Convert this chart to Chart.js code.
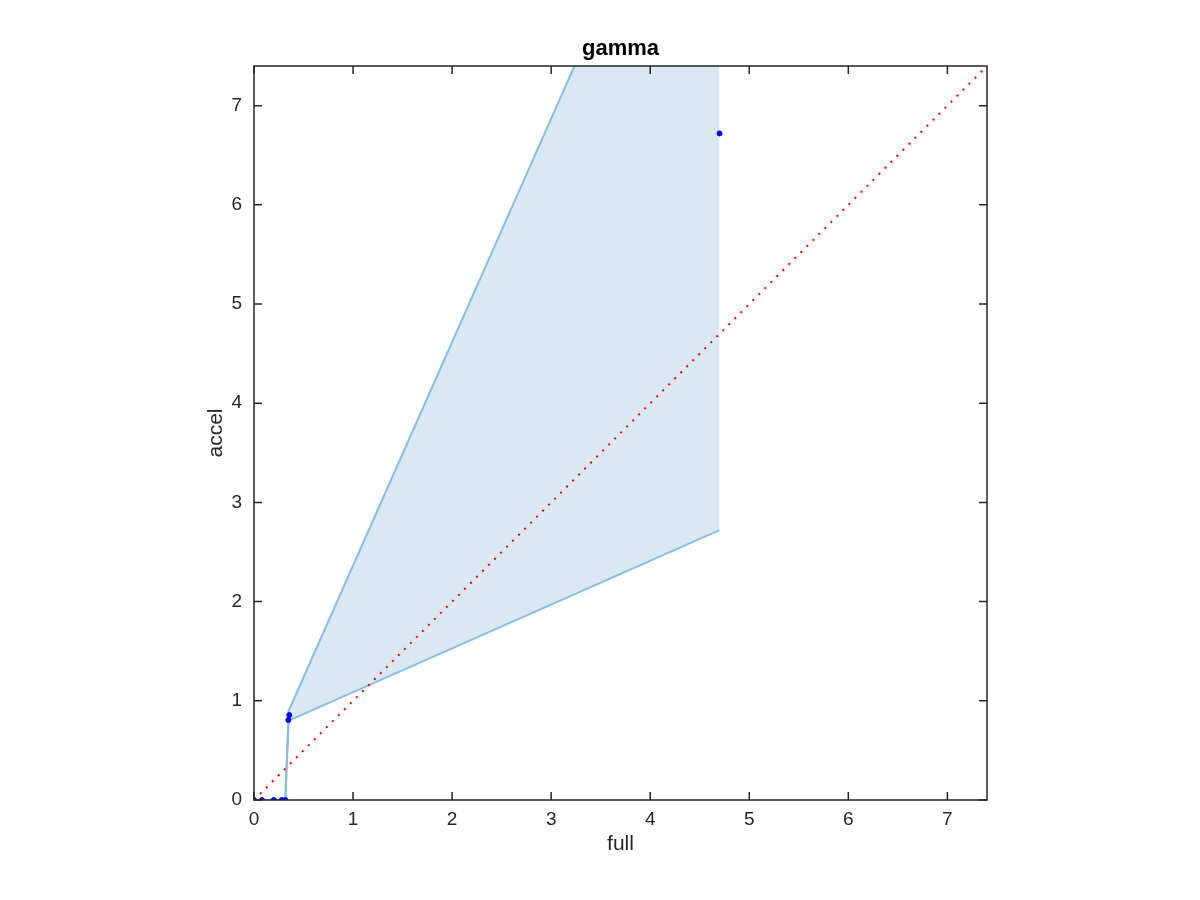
<!DOCTYPE html>
<html>
<head>
<meta charset="utf-8">
<script src="https://cdn.jsdelivr.net/npm/chart.js@4/dist/chart.umd.min.js"></script>
<style>
  body { margin: 0; background: #fff; }
</style>
</head>
<body>
<canvas id="gammaChart" width="1200" height="900"></canvas>
<script>
// observed points (full vs accel)
const pointFull = [0, 0.08, 0.2, 0.28, 0.316, 0.346, 0.356, 4.7];
const pointAccel = [0, 0, 0, 0, 0, 0.806, 0.856, 6.72];

// confidence band
const bandFull = [0, 0.08, 0.2, 0.28, 0.316, 0.35, 4.7];
const bandUpper = [0, 0, 0, 0, 0, 0.9, 10.7];
const bandLower = [0, 0, 0, 0, 0, 0.8, 2.72];

// identity line
const diagFull = [0, 7.4];

const xTicks = [0, 1, 2, 3, 4, 5, 6, 7];
const yTicks = [0, 1, 2, 3, 4, 5, 6, 7];
const axisMax = 7.4;
const titleText = 'gamma';

const ink = '#262626';
const fontFamily = '"Liberation Sans", Arial, Helvetica, sans-serif';

const toXY = (xs, ys) => xs.map((x, i) => ({ x: x, y: ys[i] }));

// matlab-like box with inward ticks on all four sides, title centred on the axes
const boxPlugin = {
    id: 'boxTicks',
    afterDraw(chart) {
        const { ctx, chartArea: a, scales } = chart;
        const len = 8;
        ctx.save();
        ctx.strokeStyle = ink;
        ctx.lineWidth = 1.5;
        ctx.strokeRect(a.left, a.top, a.right - a.left, a.bottom - a.top);
        ctx.beginPath();
        xTicks.forEach(v => {
            const px = scales.x.getPixelForValue(v);
            ctx.moveTo(px, a.bottom); ctx.lineTo(px, a.bottom - len);
            ctx.moveTo(px, a.top); ctx.lineTo(px, a.top + len);
        });
        yTicks.forEach(v => {
            const py = scales.y.getPixelForValue(v);
            ctx.moveTo(a.left, py); ctx.lineTo(a.left + len, py);
            ctx.moveTo(a.right, py); ctx.lineTo(a.right - len, py);
        });
        ctx.stroke();

        ctx.fillStyle = '#000';
        ctx.font = 'bold 22px ' + fontFamily;
        ctx.textAlign = 'center';
        ctx.textBaseline = 'alphabetic';
        ctx.fillText(titleText, (a.left + a.right) / 2, a.top - 11);
        ctx.restore();
    }
};

const ctx = document.getElementById('gammaChart').getContext('2d');

new Chart(ctx, {
    type: 'scatter',
    data: {
        datasets: [
            {
                label: 'points',
                data: toXY(pointFull, pointAccel),
                backgroundColor: '#0000ff',
                borderColor: '#0000ff',
                pointRadius: 2.5,
                showLine: false
            },
            {
                label: 'identity',
                data: toXY(diagFull, diagFull),
                showLine: true,
                borderColor: '#ff0000',
                borderWidth: 2,
                borderDash: [2, 6.5],
                pointRadius: 0,
                fill: false
            },
            {
                label: 'upper',
                data: toXY(bandFull, bandUpper),
                showLine: true,
                borderColor: '#88bde3',
                borderWidth: 2,
                pointRadius: 0,
                fill: false
            },
            {
                label: 'lower',
                data: toXY(bandFull, bandLower),
                showLine: true,
                borderColor: '#88bde3',
                borderWidth: 2,
                pointRadius: 0,
                backgroundColor: '#d9e8f3',
                fill: '-1'
            }
        ]
    },
    options: {
        responsive: false,
        animation: false,
        events: [],
        layout: {
            padding: { left: 200, right: 213, top: 66, bottom: 39 }
        },
        plugins: {
            legend: { display: false },
            tooltip: { enabled: false },
            title: { display: false }
        },
        scales: {
            x: {
                type: 'linear',
                min: 0,
                max: axisMax,
                grid: { display: false, drawTicks: false },
                border: { display: false },
                title: {
                    display: true,
                    text: 'full',
                    color: ink,
                    font: { family: fontFamily, size: 21, lineHeight: 1.2 }
                },
                ticks: {
                    color: ink,
                    padding: 8,
                    maxRotation: 0,
                    font: { family: fontFamily, size: 19 }
                },
                afterBuildTicks: scale => { scale.ticks = xTicks.map(v => ({ value: v })); },
                afterFit: scale => { scale.height = 61; }
            },
            y: {
                type: 'linear',
                min: 0,
                max: axisMax,
                grid: { display: false, drawTicks: false },
                border: { display: false },
                title: {
                    display: true,
                    text: 'accel',
                    color: ink,
                    font: { family: fontFamily, size: 21, lineHeight: 1.2 }
                },
                ticks: {
                    color: ink,
                    padding: 12,
                    font: { family: fontFamily, size: 19 }
                },
                afterBuildTicks: scale => { scale.ticks = yTicks.map(v => ({ value: v })); },
                afterFit: scale => { scale.width = 54; }
            }
        }
    },
    plugins: [boxPlugin]
});
</script>
</body>
</html>
